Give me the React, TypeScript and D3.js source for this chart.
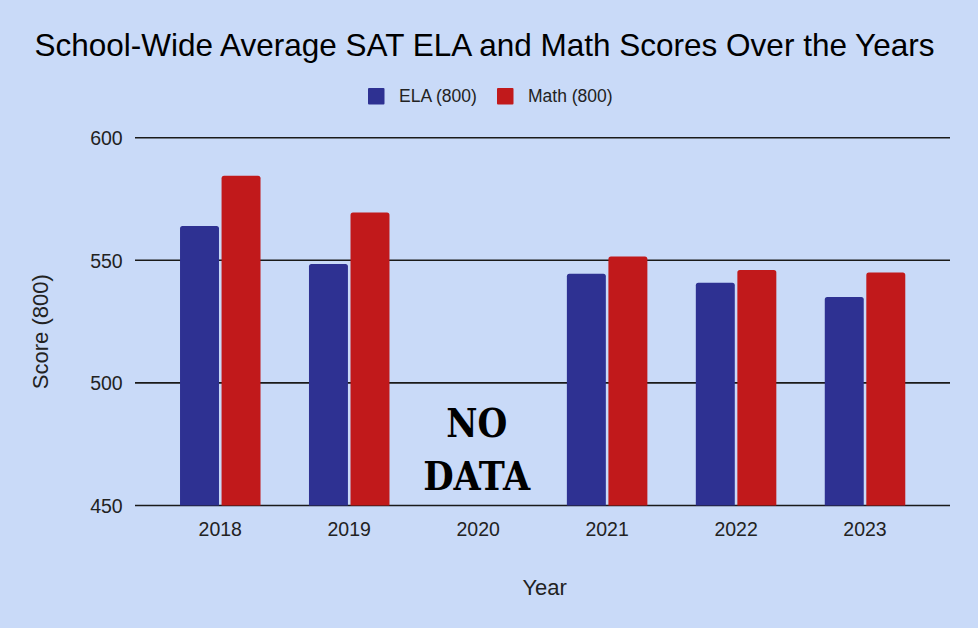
import React from "react";
import * as d3 from "d3";

const years = ["2018", "2019", "2020", "2021", "2022", "2023"];
const elaScores: (number | null)[] = [564, 548.5, null, 544.5, 540.8, 535];
const mathScores: (number | null)[] = [584.5, 569.5, null, 551.5, 546, 545];
const yTicks = [450, 500, 550, 600];
const seriesNames = ["ELA (800)", "Math (800)"];
const seriesColors = ["#2e3192", "#c1191b"];

const W = 978;
const H = 628;
const FONT = "'Liberation Sans', Arial, sans-serif";
const SLAB = "'DejaVu Serif', serif";

function topRoundedBar(x: number, y: number, w: number, h: number, r: number) {
  const rr = Math.min(r, h / 2, w / 2);
  return `M${x},${y + h}V${y + rr}Q${x},${y} ${x + rr},${y}H${x + w - rr}Q${x + w},${y} ${x + w},${y + rr}V${y + h}Z`;
}

export default function App() {
  const y = d3.scaleLinear().domain([450, 600]).range([505.5, 137.7]);
  const x = d3.scaleBand<string>().domain(years).range([155.8, 929.5]).padding(0);
  const inner = d3.scaleBand<number>().domain([0, 1]).range([0, 80.5]).paddingInner(0.062);
  const series = [elaScores, mathScores];
  const gridX0 = 135;
  const gridX1 = 950;
  const cx2020 = (x("2020") as number) + x.bandwidth() / 2 - 1.5;

  return (
    <svg width={W} height={H} style={{ position: "absolute", left: 0, top: 0, display: "block" }}>
      <rect x={0} y={0} width={W} height={H} fill="#c9daf8" />
      <text x={484.5} y={56} textAnchor="middle" fontFamily={FONT} fontSize={31.5} fill="#000">
        School-Wide Average SAT ELA and Math Scores Over the Years
      </text>

      {/* legend */}
      {seriesNames.map((name, i) => {
        const lx = i === 0 ? 368 : 497;
        return (
          <g key={name}>
            <rect x={lx} y={88} width={16.5} height={16.5} rx={1} fill={seriesColors[i]} />
            <text x={lx + 31} y={102} fontFamily={FONT} fontSize={17.5} fill="#222">
              {name}
            </text>
          </g>
        );
      })}

      {/* gridlines and y ticks */}
      {yTicks.map((t) => (
        <g key={t}>
          <line x1={gridX0} x2={gridX1} y1={y(t)} y2={y(t)} stroke="#1a1a1a" strokeWidth={1.6} />
          <text x={122.7} y={y(t) + 7.5} textAnchor="end" fontFamily={FONT} fontSize={19.5} fill="#222">
            {t}
          </text>
        </g>
      ))}

      {/* bars */}
      {years.map((yr, yi) =>
        series.map((vals, si) => {
          const v = vals[yi];
          if (v == null) return null;
          const bx = (x(yr) as number) + x.bandwidth() / 2 - 40.25 + (inner(si) as number);
          const by = y(v);
          const bh = y(450) - by;
          return (
            <path
              key={`${yr}-${si}`}
              d={topRoundedBar(bx, by, inner.bandwidth(), bh, 2.5)}
              fill={seriesColors[si]}
            />
          );
        })
      )}

      {/* x tick labels */}
      {years.map((yr) => (
        <text
          key={yr}
          x={(x(yr) as number) + x.bandwidth() / 2}
          y={535.7}
          textAnchor="middle"
          fontFamily={FONT}
          fontSize={19.5}
          fill="#222"
        >
          {yr}
        </text>
      ))}

      {/* NO DATA */}
      <text
        x={cx2020}
        y={437}
        textAnchor="middle"
        fontFamily={SLAB}
        fontWeight="bold"
        fontSize={40}
        textLength={61}
        lengthAdjust="spacingAndGlyphs"
        fill="#000"
      >
        NO
      </text>
      <text
        x={cx2020}
        y={490}
        textAnchor="middle"
        fontFamily={SLAB}
        fontWeight="bold"
        fontSize={40}
        textLength={107}
        lengthAdjust="spacingAndGlyphs"
        fill="#000"
      >
        DATA
      </text>

      {/* axis titles */}
      <text x={544.7} y={595} textAnchor="middle" fontFamily={FONT} fontSize={22} fill="#222">
        Year
      </text>
      <text
        transform="translate(48,331.7) rotate(-90)"
        textAnchor="middle"
        fontFamily={FONT}
        fontSize={22}
        fill="#222"
      >
        Score (800)
      </text>
    </svg>
  );
}
